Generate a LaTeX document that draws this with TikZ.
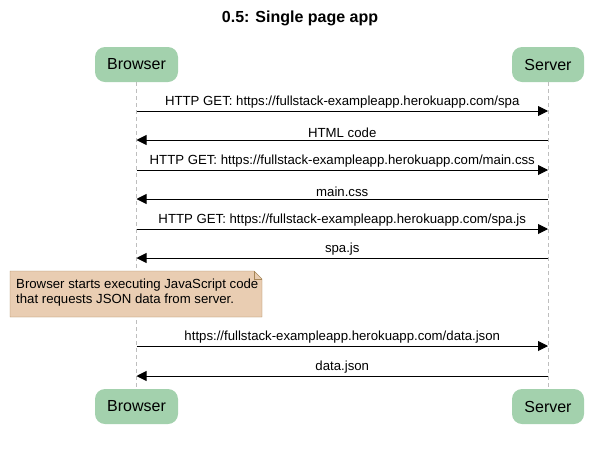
\documentclass[tikz,border=0pt]{standalone}
\usepackage{fontspec}
\setmainfont{Liberation Sans}
\usetikzlibrary{arrows.meta,positioning,shapes.misc}

\definecolor{actorgreen}{RGB}{163,209,173}
\definecolor{notefill}{RGB}{233,205,178}
\definecolor{notedraw}{RGB}{166,133,86}
\definecolor{lifegray}{RGB}{190,190,190}

\begin{document}
\begin{tikzpicture}[x=1pt,y=-1pt,>={Triangle[length=10pt,width=10pt]},
    actor/.style={rectangle, rounded corners=10pt, fill=actorgreen, minimum height=35pt, inner sep=0pt, font=\fontsize{16}{18}\selectfont},
    lifeline/.style={draw=lifegray, dashed, dash pattern=on 4pt off 3pt, thin},
    msg/.style={->, line width=0.9pt},
    msglabel/.style={above=1pt, font=\fontsize{13.2}{15}\selectfont, inner sep=1pt}]
  \useasboundingbox (0,0) rectangle (599,448);

  \node[font=\bfseries\fontsize{16}{18}\selectfont] (title) at (300,18) {0.5: Single page app};

  % participants
  \node[actor, minimum width=83pt] (browser)  at (136.5,64.5)  {Browser};
  \node[actor, minimum width=72pt] (server)   at (548,64.5)    {Server};
  \node[actor, minimum width=83pt] (browser2) at (136.5,406.5) {Browser};
  \node[actor, minimum width=72pt] (server2)  at (548,406.5)   {Server};

  \draw[lifeline] (browser) -- (browser2);
  \draw[lifeline] (server) -- (server2);

  % points on the lifelines
  \foreach \y [count=\i] in {111,140,170,199,229,258,346,376} {
    \coordinate (b\i) at (browser |- 0,\y);
    \coordinate (s\i) at (server |- 0,\y);
  }

  \draw[msg] (b1) -- node[msglabel] {HTTP GET: https://fullstack-exampleapp.herokuapp.com/spa} (s1);
  \draw[msg] (s2) -- node[msglabel] {HTML code} (b2);
  \draw[msg] (b3) -- node[msglabel] {HTTP GET: https://fullstack-exampleapp.herokuapp.com/main.css} (s3);
  \draw[msg] (s4) -- node[msglabel] {main.css} (b4);
  \draw[msg] (b5) -- node[msglabel] {HTTP GET: https://fullstack-exampleapp.herokuapp.com/spa.js} (s5);
  \draw[msg] (s6) -- node[msglabel] {spa.js} (b6);

  % note
  \draw[fill=notefill, draw=notedraw] (10,271) -- (254,271) -- (262,279) -- (262,317) -- (10,317) -- cycle;
  \draw[draw=notedraw] (254,271) -- (254,279) -- (262,279);
  \node[anchor=north west, align=left, inner sep=0pt, font=\fontsize{13.2}{15}\selectfont] (note) at (16,279)
    {Browser starts executing JavaScript code\\that requests JSON data from server.};

  \draw[msg] (b7) -- node[msglabel] {https://fullstack-exampleapp.herokuapp.com/data.json} (s7);
  \draw[msg] (s8) -- node[msglabel] {data.json} (b8);
\end{tikzpicture}
\end{document}
